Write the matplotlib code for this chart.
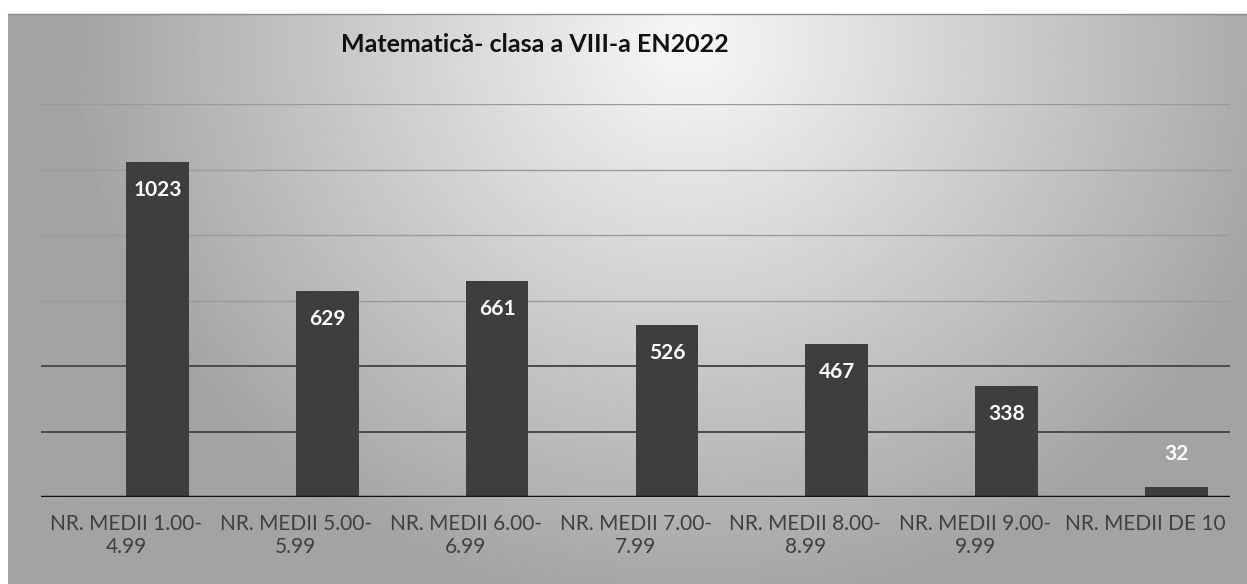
import numpy as np
import matplotlib.pyplot as plt

# date
categorii = ["NR. MEDII 1.00-\n4.99", "NR. MEDII 5.00-\n5.99", "NR. MEDII 6.00-\n6.99",
             "NR. MEDII 7.00-\n7.99", "NR. MEDII 8.00-\n8.99", "NR. MEDII 9.00-\n9.99",
             "NR. MEDII DE 10"]
valori = [1023, 629, 661, 526, 467, 338, 32]
titlu = "Matematică- clasa a VIII-a EN2022"

plt.rcParams['font.family'] = ['Lato', 'DejaVu Sans']

W, H = 1247, 584
fig = plt.figure(figsize=(W / 100, H / 100), dpi=100)

# fundal gri cu zona luminoasa sus-centru (aspect de scanare)
bg = fig.add_axes([8 / W, 0, 1 - 8 / W, 1 - 14 / H])
yy, xx = np.mgrid[0:1:300j, 0:1:600j]
d = np.sqrt(((xx - 0.55) / 0.5) ** 2 + ((yy - 0.05) / 1.0) ** 2)
g = np.clip(0.97 - 0.33 * d, 0.64, 0.97)
bg.imshow(g, cmap='gray', vmin=0, vmax=1, aspect='auto', extent=[0, 1, 1, 0])
bg.set_axis_off()
fig.add_artist(plt.Line2D([8 / W, 1], [1 - 14 / H] * 2, color='#8a8a8a', lw=1))

ax = fig.add_axes([41 / W, 1 - 497 / H, (1230 - 41) / W, (497 - 104) / H])
ax.patch.set_alpha(0)
x = np.arange(len(valori))
# bara e a doua serie din grup, deci decalata spre dreapta fata de eticheta
xb = x + 0.185
ax.bar(xb, valori, width=0.37, color='#3e3e3e', zorder=3)
ax.set_xlim(-0.5, len(valori) - 0.5)
ax.set_ylim(0, 1200)

# linii de grila
for yv in [200, 400]:
    ax.axhline(yv, color='#4a4a4a', lw=1.4, zorder=1)
for yv in [600, 800, 1000, 1200]:
    ax.axhline(yv, color='#9a9a9a', lw=1.0, zorder=1)
ax.axhline(0, color='#111111', lw=2.5, zorder=4)

for xi, v in zip(xb, valori):
    if v > 100:
        ax.text(xi, v - 55, str(v), ha='center', va='top', color='white',
                fontsize=15, fontweight='bold', zorder=5)
    else:
        ax.text(xi, v + 70, str(v), ha='center', va='bottom', color='white',
                fontsize=15, fontweight='bold', zorder=5)

ax.set_xticks(x)
ax.set_xticklabels(categorii, fontsize=15, color='#404040', linespacing=1.2)
ax.tick_params(axis='x', length=0, pad=12)
ax.set_yticks([])
for s in ax.spines.values():
    s.set_visible(False)

fig.text(535 / W, 1 - 45 / H, titlu, ha='center', va='center', fontsize=18,
         fontweight='bold', color='#111111')

fig.savefig('out.png', dpi=100)
